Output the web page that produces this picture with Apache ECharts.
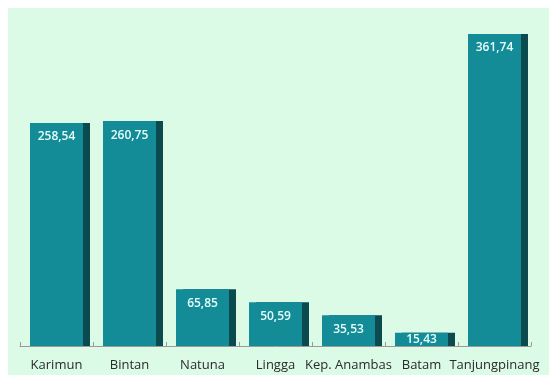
<!DOCTYPE html>
<html>
<head>
<meta charset="utf-8">
<script src="https://cdn.jsdelivr.net/npm/echarts@6/dist/echarts.min.js"></script>
<style>
  html, body { margin: 0; padding: 0; background: #ffffff; }
  #wrap { position: relative; width: 549px; height: 375px; overflow: hidden; }
  #panel { position: absolute; left: 8px; top: 8px; right: 0; bottom: 0; background: #dcfbe6; }
  #chart { position: absolute; left: 0; top: 0; width: 549px; height: 375px; }
</style>
</head>
<body>
<div id="wrap">
  <div id="panel"></div>
  <div id="chart"></div>
</div>
<script>
// Regencies / cities
const categories = ['Karimun', 'Bintan', 'Natuna', 'Lingga', 'Kep. Anambas', 'Batam', 'Tanjungpinang'];
// Values per regency / city
const values = [258.54, 260.75, 65.85, 50.59, 35.53, 15.43, 361.74];

const fmt = v => v.toFixed(2).replace('.', ',');

// Short bars get their label pulled closer to the top edge so it stays inside
const barData = values.map(v => (v < 25
  ? { value: v, label: { distance: 1 } }
  : v));

const chart = echarts.init(document.getElementById('chart'), null, { renderer: 'canvas' });
chart.setOption({
  animation: false,
  backgroundColor: 'transparent',
  grid: { left: 20, right: 18, top: 34, bottom: 29 },
  xAxis: {
    type: 'category',
    data: categories,
    axisLine: { lineStyle: { color: '#9a9a9a', width: 1 } },
    axisTick: { show: true, inside: true, length: 4, lineStyle: { color: '#9a9a9a' } },
    axisLabel: {
      color: '#2a2a2a',
      fontFamily: 'Open Sans',
      fontSize: 13,
      margin: 13,
      interval: 0
    }
  },
  yAxis: {
    type: 'value',
    min: 0,
    max: 'dataMax',
    show: false,
    splitLine: { show: false }
  },
  series: [{
    type: 'bar',
    data: barData,
    barWidth: 53,
    itemStyle: {
      color: '#138c97',
      shadowColor: '#0b4a4e',
      shadowOffsetX: 7,
      shadowOffsetY: 0,
      shadowBlur: 0
    },
    label: {
      show: true,
      position: 'insideTop',
      distance: 8,
      color: '#e8fffd',
      fontFamily: 'Open Sans',
      fontWeight: 600,
      fontSize: 12,
      formatter: p => fmt(p.value)
    }
  }]
});
</script>
</body>
</html>
